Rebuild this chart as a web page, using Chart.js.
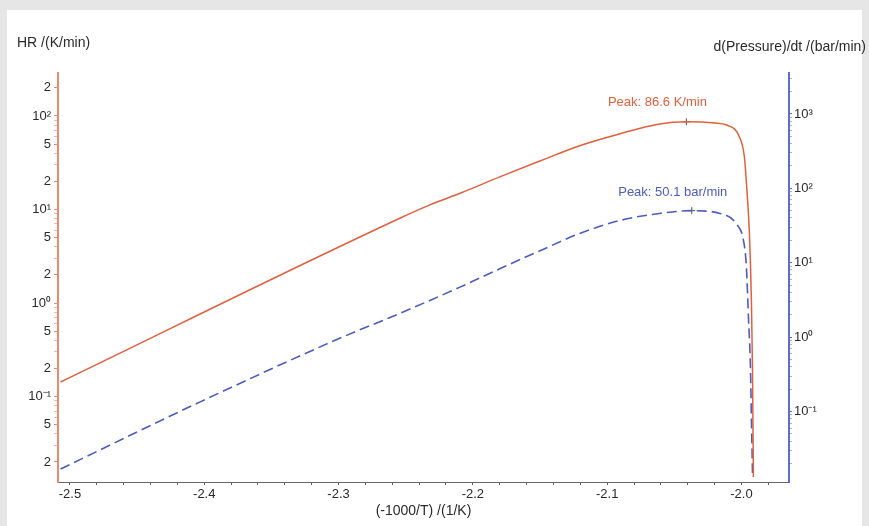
<!DOCTYPE html>
<html>
<head>
<meta charset="utf-8">
<script src="https://cdn.jsdelivr.net/npm/chart.js@4.4.0/dist/chart.umd.min.js"></script>
<style>
  html,body{margin:0;padding:0;background:#e6e6e6;overflow:hidden}
  #panel{position:absolute;left:7px;top:10px;width:855px;height:516px;background:#fff}
  #wrap{position:absolute;left:0;top:0;width:869px;height:526px}
</style>
</head>
<body>
<div id="panel"></div>
<div id="wrap"><canvas id="chart" width="869" height="526"></canvas></div>
<script>
// Data
const hrX = [-2.507, -2.254, -2.232, -2.209, -2.180, -2.150, -2.121, -2.091, -2.061, -2.041, -2.020, -2.011, -2.0015, -1.9978, -1.9963, -1.9941, -1.9926, -1.9918, -1.9911];
const hrY = [0.143, 8.1, 11.2, 15.0, 22.3, 33.0, 47.8, 64.2, 82.1, 86.6, 84.2, 80, 59.6, 36.4, 19.2, 5.6, 1.08, 0.207, 0.0138];
const dpX = [-2.507, -2.403, -2.30, -2.254, -2.2096, -2.180, -2.150, -2.120, -2.090, -2.061, -2.037, -2.016, -2.003, -1.9985, -1.9963, -1.9948, -1.9933, -1.9926, -1.9918];
const dpY = [0.0169, 0.135, 0.95, 2.1, 4.7, 8.3, 14.5, 24.9, 37.2, 46, 50.1, 46, 31.9, 20, 8.7, 1.85, 0.395, 0.084, 0.0149];

const hrPeakX = [-2.041], hrPeakY = [86.6];
const dpPeakX = [-2.037], dpPeakY = [50.1];
const peakLabels = ['Peak: 86.6 K/min', 'Peak: 50.1 bar/min'];

// Axis ticks and titles
const xTicks = [-2.5, -2.4, -2.3, -2.2, -2.1, -2.0];
const hrTicks = [0.02, 0.05, 0.1, 0.2, 0.5, 1, 2, 5, 10, 20, 50, 100, 200];
const dpTicks = [0.1, 1, 10, 100, 1000];
const yLeftTitle = 'HR /(K/min)';
const yRightTitle = 'd(Pressure)/dt /(bar/min)';
const xTitle = '(-1000/T) /(1/K)';

const RED = '#e0603e', BLUE = '#4c5cc0';
const RED_AXIS = '#ea8a72', BLUE_AXIS = '#5d6dd0';
const FONT = '"Liberation Sans", Arial, sans-serif';
Chart.defaults.font.family = FONT;

const SUP = {'-':'⁻','0':'⁰','1':'¹','2':'²','3':'³','4':'⁴','5':'⁵','6':'⁶','7':'⁷','8':'⁸','9':'⁹'};
function logLabel(v){
  const e = Math.round(Math.log10(v));
  if(Math.abs(Math.pow(10, e) - v) / v < 1e-6){
    return '10' + String(e).split('').map(c => SUP[c]).join('');
  }
  return String(Math.round(v / Math.pow(10, Math.floor(Math.log10(v) + 1e-9))));
}
function isIn(list, v){ return list.some(t => Math.abs(t - v) / Math.abs(t) < 1e-6); }

// all 1..9 multiples inside a log range (tick marks only)
function logMinor(min, max){
  const out = [];
  for(let e = Math.floor(Math.log10(min)); e <= Math.ceil(Math.log10(max)); e++){
    for(let m = 1; m < 10; m++){
      const v = m * Math.pow(10, e);
      if(v >= min && v <= max) out.push(v);
    }
  }
  return out;
}

const toPts = (xs, ys) => xs.map((x, i) => ({x, y: ys[i]}));

const labelPlugin = {
  id: 'labels',
  afterDraw(chart){
    const {ctx, chartArea: ca, scales} = chart;
    ctx.save();
    ctx.font = '14px ' + FONT;
    ctx.fillStyle = '#2a2a2a';
    ctx.textBaseline = 'middle';
    ctx.textAlign = 'left';
    ctx.fillText(yLeftTitle, 17, 43);
    ctx.textAlign = 'right';
    ctx.fillText(yRightTitle, 866, 47);
    ctx.textAlign = 'center';
    ctx.fillText(xTitle, (ca.left + ca.right) / 2, 511);
    // peak labels
    ctx.font = '13px ' + FONT;
    ctx.fillStyle = RED;
    ctx.fillText(peakLabels[0], scales.x.getPixelForValue(hrPeakX[0]) - 29, scales.y.getPixelForValue(hrPeakY[0]) - 19);
    ctx.fillStyle = BLUE;
    ctx.fillText(peakLabels[1], scales.x.getPixelForValue(dpPeakX[0]) - 19, scales.y2.getPixelForValue(dpPeakY[0]) - 18);
    ctx.restore();
  }
};

new Chart(document.getElementById('chart'), {
  type: 'line',
  data: {
    datasets: [
      { data: toPts(hrX, hrY), yAxisID: 'y', borderColor: RED, borderWidth: 1.5, pointRadius: 0, cubicInterpolationMode: 'monotone' },
      { data: toPts(dpX, dpY), yAxisID: 'y2', borderColor: BLUE, borderWidth: 1.6, borderDash: [10, 5], pointRadius: 0, cubicInterpolationMode: 'monotone' },
      { data: toPts(hrPeakX, hrPeakY), yAxisID: 'y', showLine: false, pointStyle: 'cross', pointRadius: 3.5, borderColor: '#555', borderWidth: 1 },
      { data: toPts(dpPeakX, dpPeakY), yAxisID: 'y2', showLine: false, pointStyle: 'cross', pointRadius: 3.5, borderColor: '#555', borderWidth: 1 }
    ]
  },
  options: {
    responsive: false,
    animation: false,
    layout: { padding: { top: 73, left: 0, right: 0, bottom: 0 } },
    plugins: { legend: { display: false }, tooltip: { enabled: false } },
    scales: {
      x: {
        type: 'linear', position: 'bottom', min: -2.5089, max: -1.9646,
        border: { color: '#666', width: 1 },
        grid: { drawOnChartArea: false, tickLength: 3, color: '#666' },
        ticks: {
          autoSkip: false, maxRotation: 0, padding: 2, color: '#2a2a2a', font: { size: 13 },
          callback: v => isIn(xTicks, v) ? v.toFixed(1) : ''
        },
        afterBuildTicks(s){
          const t = [];
          for(let k = 0; k <= 26; k++) t.push({ value: -2.5 + 0.02 * k });
          s.ticks = t;
        },
        afterFit(s){ s.height = 44; }
      },
      y: {
        type: 'logarithmic', position: 'left', min: 0.0122, max: 288,
        border: { color: RED_AXIS, width: 2 },
        grid: {
          drawOnChartArea: false, tickLength: 4,
          color: c => (c.tick && isIn(hrTicks, c.tick.value)) ? RED_AXIS : '#f3b4a6'
        },
        ticks: {
          autoSkip: false, padding: 3, color: '#2a2a2a', font: { size: 13 },
          callback: v => isIn(hrTicks, v) ? logLabel(v) : ''
        },
        afterBuildTicks(s){ s.ticks = logMinor(0.0122, 288).map(v => ({ value: v })); },
        afterFit(s){ s.width = 58; }
      },
      y2: {
        type: 'logarithmic', position: 'right', min: 0.0113, max: 3550,
        border: { color: BLUE_AXIS, width: 2 },
        grid: {
          drawOnChartArea: false, tickLength: 3,
          color: c => (c.tick && isIn(dpTicks, c.tick.value)) ? BLUE_AXIS : '#aab3e6'
        },
        ticks: {
          autoSkip: false, padding: 2, color: '#2a2a2a', font: { size: 13 },
          callback: v => isIn(dpTicks, v) ? logLabel(v) : ''
        },
        afterBuildTicks(s){ s.ticks = logMinor(0.0113, 3550).map(v => ({ value: v })); },
        afterFit(s){ s.width = 80; }
      }
    }
  },
  plugins: [labelPlugin]
});
</script>
</body>
</html>
